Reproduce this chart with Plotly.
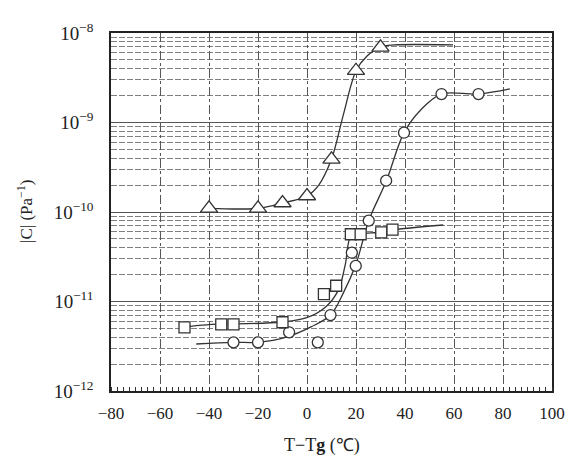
import plotly.graph_objects as go

# ---- data ----
# triangles
tri_x = [-40, -20, -10, 0, 10, 20, 30]
tri_y = [1.10e-10, 1.10e-10, 1.26e-10, 1.51e-10, 3.88e-10, 3.79e-9, 6.92e-9]
tri_curve_x = [-40, -20, -10, 0, 4.8, 10, 14.8, 20, 24.4, 30, 35.6, 59.6]
tri_curve_y = [1.10e-10, 1.10e-10, 1.26e-10, 1.51e-10, 2.0e-10, 3.9e-10, 1.21e-9, 3.77e-9, 5.5e-9, 6.97e-9, 7.35e-9, 7.35e-9]

# circles
cir_x = [-30, -20, -7.3, 4.4, 9.6, 18.3, 19.9, 25.2, 32.3, 39.6, 54.9, 70]
cir_y = [3.5e-12, 3.5e-12, 4.53e-12, 3.5e-12, 7.06e-12, 3.51e-11, 2.5e-11, 8.0e-11, 2.24e-10, 7.69e-10, 2.08e-9, 2.08e-9]
cir_curve_x = [-45.2, -30, -20, -8.4, 1.6, 9.6, 14.8, 20, 25.2, 32.4, 39.6, 46.4, 54.8, 70, 82.8]
cir_curve_y = [3.35e-12, 3.5e-12, 3.5e-12, 4.0e-12, 5.2e-12, 7.06e-12, 1.24e-11, 2.62e-11, 8.0e-11, 2.23e-10, 7.7e-10, 1.38e-9, 2.08e-9, 2.08e-9, 2.37e-9]

# squares
sq_x = [-50, -35, -30, -10, 6.9, 11.9, 17.9, 21.9, 30.3, 34.9]
sq_y = [5.15e-12, 5.56e-12, 5.56e-12, 5.86e-12, 1.21e-11, 1.50e-11, 5.64e-11, 5.64e-11, 5.93e-11, 6.34e-11]
sq_curve_x = [-50.4, -35.2, -30, -10.4, -0.4, 7.6, 12.8, 15.6, 18, 22, 30.4, 34.8, 55.6]
sq_curve_y = [5.19e-12, 5.61e-12, 5.61e-12, 5.9e-12, 6.55e-12, 8.7e-12, 1.34e-11, 2.56e-11, 5.4e-11, 5.68e-11, 5.98e-11, 6.3e-11, 7.16e-11]

x_ticks = [-80, -60, -40, -20, 0, 20, 40, 60, 80, 100]
y_ticks = [1e-12, 1e-11, 1e-10, 1e-9, 1e-8]
y_ticktext = ["10<sup>−12</sup>", "10<sup>−11</sup>", "10<sup>−10</sup>", "10<sup>−9</sup>", "10<sup>−8</sup>"]
decades = [1e-12, 1e-11, 1e-10, 1e-9]
mantissas = [2, 3, 4, 5, 6, 7, 8, 9]
y_minor = [m * d for d in decades for m in mantissas]

LINE = "#333"
FONT = "Liberation Serif"

fig = go.Figure()
for cx, cy in [(tri_curve_x, tri_curve_y), (cir_curve_x, cir_curve_y), (sq_curve_x, sq_curve_y)]:
    fig.add_trace(go.Scatter(x=cx, y=cy, mode="lines",
                             line=dict(color=LINE, width=1.3, shape="spline", smoothing=1.0),
                             hoverinfo="skip", showlegend=False))
for mx, my, sym, sz in [(tri_x, tri_y, "triangle-up", 15), (cir_x, cir_y, "circle", 11), (sq_x, sq_y, "square", 11)]:
    fig.add_trace(go.Scatter(x=mx, y=my, mode="markers",
                             marker=dict(symbol=sym, size=sz, color="white",
                                         line=dict(color="#333", width=1.3)),
                             showlegend=False))

fig.update_layout(
    width=577, height=459,
    margin=dict(l=111, r=16, t=33, b=68),
    paper_bgcolor="white", plot_bgcolor="white",
    font=dict(family=FONT, color="#222", size=16),
    xaxis=dict(range=[-80, 100], tickvals=x_ticks, ticks="", showgrid=True,
               gridcolor="#555", griddash="dashdot", gridwidth=1,
               showline=True, mirror=True, linecolor="#222", linewidth=1.5,
               zeroline=False, tickfont=dict(size=17), ticklabelstandoff=6,
               minor=dict(ticks="inside", ticklen=4, dtick=2.5, tickcolor="#333", showgrid=False)),
    yaxis=dict(type="log", range=[-12, -8], tickvals=y_ticks, ticktext=y_ticktext,
               ticks="", showgrid=True, gridcolor="#555", gridwidth=1.2,
               showline=True, mirror=True, linecolor="#222", linewidth=1.5,
               zeroline=False, tickfont=dict(size=19), ticklabelstandoff=12,
               minor=dict(tickvals=y_minor, ticks="", showgrid=True, gridcolor="#808080",
                          griddash="6px,2px", gridwidth=1)),
    annotations=[
        dict(text="|C| (Pa<sup>−1</sup>)", xref="paper", yref="paper", x=-0.195, y=0.5,
             textangle=-90, showarrow=False, font=dict(size=17, family=FONT),
             xanchor="center", yanchor="middle"),
        dict(text="T−T<b>g</b> (℃)", xref="paper", yref="paper", x=0.478, y=-0.152,
             showarrow=False, font=dict(size=18, family=FONT),
             xanchor="center", yanchor="middle"),
    ],
)

fig.write_html("out.html")
